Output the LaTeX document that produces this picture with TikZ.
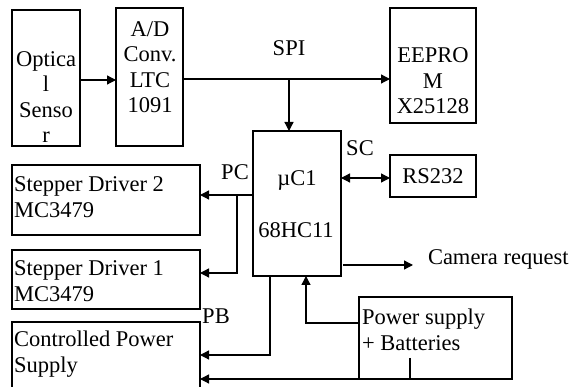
\documentclass[tikz,border=0pt]{standalone}
\usepackage{fontspec}
\setmainfont{Liberation Serif}
\usetikzlibrary{arrows.meta}
\begin{document}
\begin{tikzpicture}[x=1pt,y=-1pt,
  every node/.style={inner sep=0pt,outer sep=0pt},
  box/.style={draw,line width=1.4pt},
  txt/.style={font=\fontsize{22.5}{25.5}\selectfont},
  conn/.style={line width=1.3pt},
  arr/.style={conn,-{Triangle[length=9pt,width=9pt]}},
  darr/.style={conn,{Triangle[length=9pt,width=9pt]}-{Triangle[length=9pt,width=9pt]}}]
\useasboundingbox (0,0) rectangle (574,387);
\fill[white] (0,0) rectangle (574,387);
% boxes
\node[box,minimum width=68pt,minimum height=136pt] (opt) at (46,78) {};
\node[box,minimum width=67pt,minimum height=138pt] (ad) at (149.5,77) {};
\node[box,minimum width=86pt,minimum height=115pt] (ee) at (433,65.5) {};
\node[box,minimum width=88pt,minimum height=145pt] (uc) at (297,203.5) {};
\node[box,minimum width=86pt,minimum height=42pt,txt] (rs) at (433,176) {RS232};
\node[box,minimum width=188pt,minimum height=70pt] (s2) at (106,200) {};
\node[box,minimum width=188pt,minimum height=59pt] (s1) at (106,279.5) {};
\node[box,minimum width=188pt,minimum height=75pt] (cps) at (106,359.5) {};
\node[box,minimum width=153pt,minimum height=82pt] (ps) at (435.5,338) {};
% texts
\node[txt,align=center] (optt) at (46,97) {Optica\\l\\Senso\\r};
\node[txt,align=center] (adt) at (150,67) {A/D\\Conv.\\LTC\\1091};
\node[txt,align=center] (eet) at (433,81) {EEPRO\\M\\X25128};
\node[txt] (uct1) at (297,180) {µC1};
\node[txt] (uct2) at (296,230) {68HC11};
\node[txt,align=left,anchor=west] (s2t) at (14,197) {Stepper Driver 2\\MC3479};
\node[txt,align=left,anchor=west] (s1t) at (14,281) {Stepper Driver 1\\MC3479};
\node[txt,align=left,anchor=west] (cpst) at (14,354) {Controlled Power\\Supply};
\node[txt,align=left,anchor=west] (pst) at (362,330) {Power supply\\+ Batteries};
% labels
\node[txt] (spil) at (289,48) {SPI};
\node[txt] (pcl) at (235,172) {PC};
\node[txt] (scl) at (360,148) {SC};
\node[txt] (pbl) at (216,316) {PB};
\node[txt,anchor=west] (caml) at (428,259) {Camera request};
% connectors
\coordinate (optout) at (80,80);
\draw[arr] (optout) -- (optout -| ad.west);
\coordinate (spiout) at (183,79);
\draw[arr] (spiout) -- (spiout -| ee.west);
\coordinate (spij) at (289,79);
\draw[arr] (spij) -- (spij |- uc.north);
\coordinate (scin) at (341,178);
\draw[darr] (scin) -- (scin -| rs.west);
\coordinate (pcout) at (253,195);
\draw[arr] (pcout) -- (pcout -| s2.east);
\coordinate (pcj) at (237,195);
\coordinate (pcd) at (237,273);
\draw[arr] (pcj) -- (pcd) -- (pcd -| s1.east);
\coordinate (pbout) at (270,276);
\coordinate (pbd) at (270,355);
\draw[arr] (pbout) -- (pbd) -- (pbd -| cps.east);
\coordinate (psout) at (359,323);
\coordinate (psc) at (306,323);
\draw[arr] (psout) -- (psc) -- (psc |- uc.south);
\coordinate (psb) at (410,358);
\coordinate (psbd) at (410,379);
\draw[arr] (psb) -- (psbd) -- (psbd -| cps.east);
\coordinate (camout) at (343,265);
\coordinate (camend) at (413,265);
\draw[arr] (camout) -- (camend);
\end{tikzpicture}
\end{document}
